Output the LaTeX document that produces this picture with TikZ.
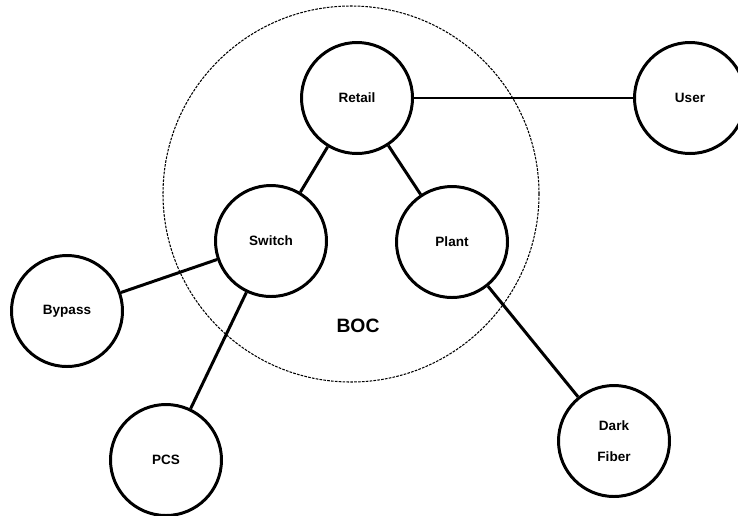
\documentclass[tikz,border=0pt]{standalone}
\usepackage{fontspec}
\setmainfont{Liberation Sans}
\usepackage{tikz}
\usetikzlibrary{positioning}

\begin{document}
\begin{tikzpicture}[
    node distance=2.0cm,
    site/.style={circle, draw=black, line width=1.7pt, fill=white,
                 minimum size=2.22cm, inner sep=0pt, align=center,
                 font=\fontsize{7.7}{17.5}\selectfont\bfseries},
    zone/.style={circle, draw=black, line width=0.6pt,
                 dash pattern=on 1.5pt off 0.7pt,
                 minimum size=7.52cm, inner sep=0pt},
    link/.style={line width=1.7pt, color=black}
]
\useasboundingbox (0,0) rectangle (14.76,-10.3);

% the BOC boundary goes first, under everything
\node (boc)      [zone] at (7.02,-3.88)                 {};

\node (retail)   [site] at (7.14,-1.96)                 {Retail};
\node (user)     [site, right of=retail, xshift=4.66cm] {User};
\node (switch)   [site, below of=retail,
                  xshift=-1.72cm, yshift=-0.86cm]       {Switch};
\node (plant)    [site, below of=retail,
                  xshift=1.9cm, yshift=-0.88cm]         {Plant};
\node (bypass)   [site, left of=switch,
                  xshift=-2.08cm, yshift=-1.4cm]        {Bypass};
\node (pcs)      [site, below of=switch,
                  xshift=-2.1cm, yshift=-2.38cm]        {PCS};
\node (dark)     [site, below of=plant,
                  xshift=3.24cm, yshift=-1.98cm]        {Dark\\Fiber};

\node (bocname)  [below of=retail, xshift=0.02cm, yshift=-2.56cm,
                  font=\fontsize{11}{13}\selectfont\bfseries] {BOC};

\draw [link] (retail) -- (user);
\draw [link] (retail) -- (switch);
\draw [link] (retail) -- (plant);
\draw [link] (switch) -- (bypass);
\draw [link] (switch) -- (pcs);
\draw [link] (plant)  -- (dark);
\end{tikzpicture}
\end{document}
